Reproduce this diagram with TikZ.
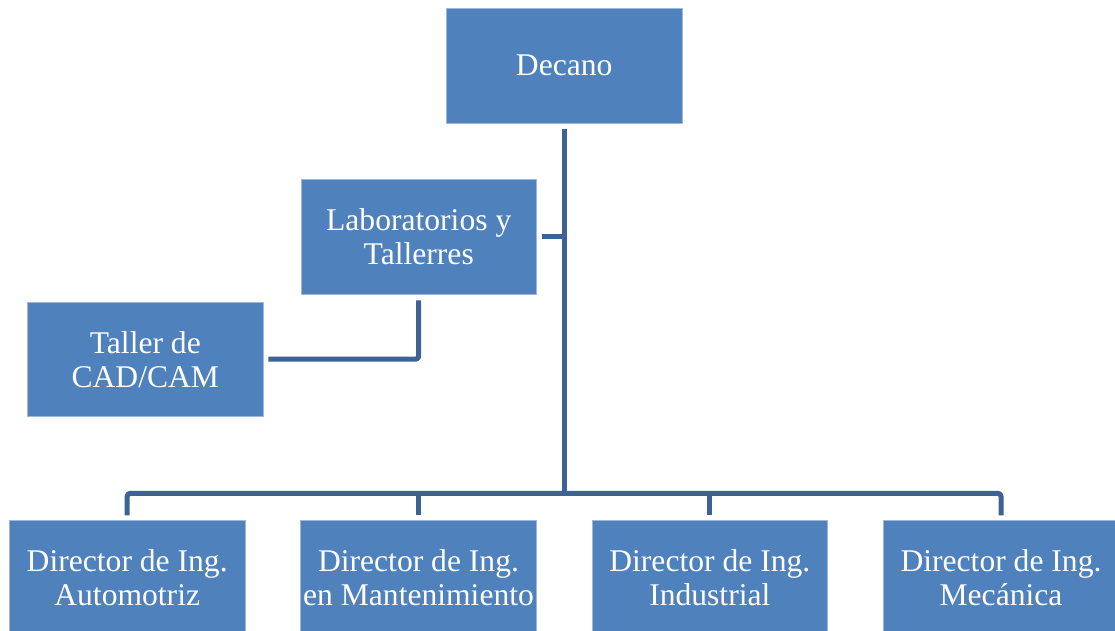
\documentclass[tikz,border=0pt]{standalone}
\usepackage{fontspec}
\setmainfont{Liberation Serif}
\definecolor{boxfill}{HTML}{4F81BD}
\definecolor{boxedge}{HTML}{9DB8DC}
\definecolor{linkcol}{HTML}{3E6294}
\begin{document}
\begin{tikzpicture}[x=1pt,y=-1pt,
  orgbox/.style={rectangle, fill=boxfill, draw=boxedge, line width=0.8pt,
    minimum width=235.5pt, minimum height=114.5pt, inner sep=0pt,
    align=center, text=white,
    font=\fontsize{31.6}{34}\selectfont},
  link/.style={draw=linkcol, line width=5pt, line join=round, line cap=butt, rounded corners=3pt}]
\clip (0,0) rectangle (1115,631);
\fill[white] (0,0) rectangle (1115,631);
\node[orgbox] (dec) at (564.2,65.8) {Decano};
\node[orgbox] (lab) at (418.7,236.7) {Laboratorios y\\Tallerres};
\node[orgbox] (tal) at (145.3,359.2) {Taller de\\CAD/CAM};
\node[orgbox] (b1) at (127.2,578) {Director de Ing.\\Automotriz};
\node[orgbox] (b2) at (418.5,578) {Director de Ing.\\en Mantenimiento};
\node[orgbox] (b3) at (709.8,578) {Director de Ing.\\Industrial};
\node[orgbox] (b4) at (1001,578) {Director de Ing.\\Mecánica};
\coordinate (bus) at (0,493.3);
% trunk
\draw[link] ([yshift=-6pt]dec.south) -- (dec.south |- bus);
% bus and outer drops
\draw[link] ([yshift=5pt]b1.north) -- (b1.north |- bus) -- (b4.north |- bus) -- ([yshift=5pt]b4.north);
\draw[link] (b2.north |- bus) -- ([yshift=5pt]b2.north);
\draw[link] (b3.north |- bus) -- ([yshift=5pt]b3.north);
% lab to trunk
\draw[link] ([xshift=5pt]lab.east) -- (lab.east -| dec.south);
% lab to taller
\draw[link] ([yshift=-6pt]lab.south) -- (lab.south |- tal.east) -- ([xshift=5pt]tal.east);
\end{tikzpicture}
\end{document}
